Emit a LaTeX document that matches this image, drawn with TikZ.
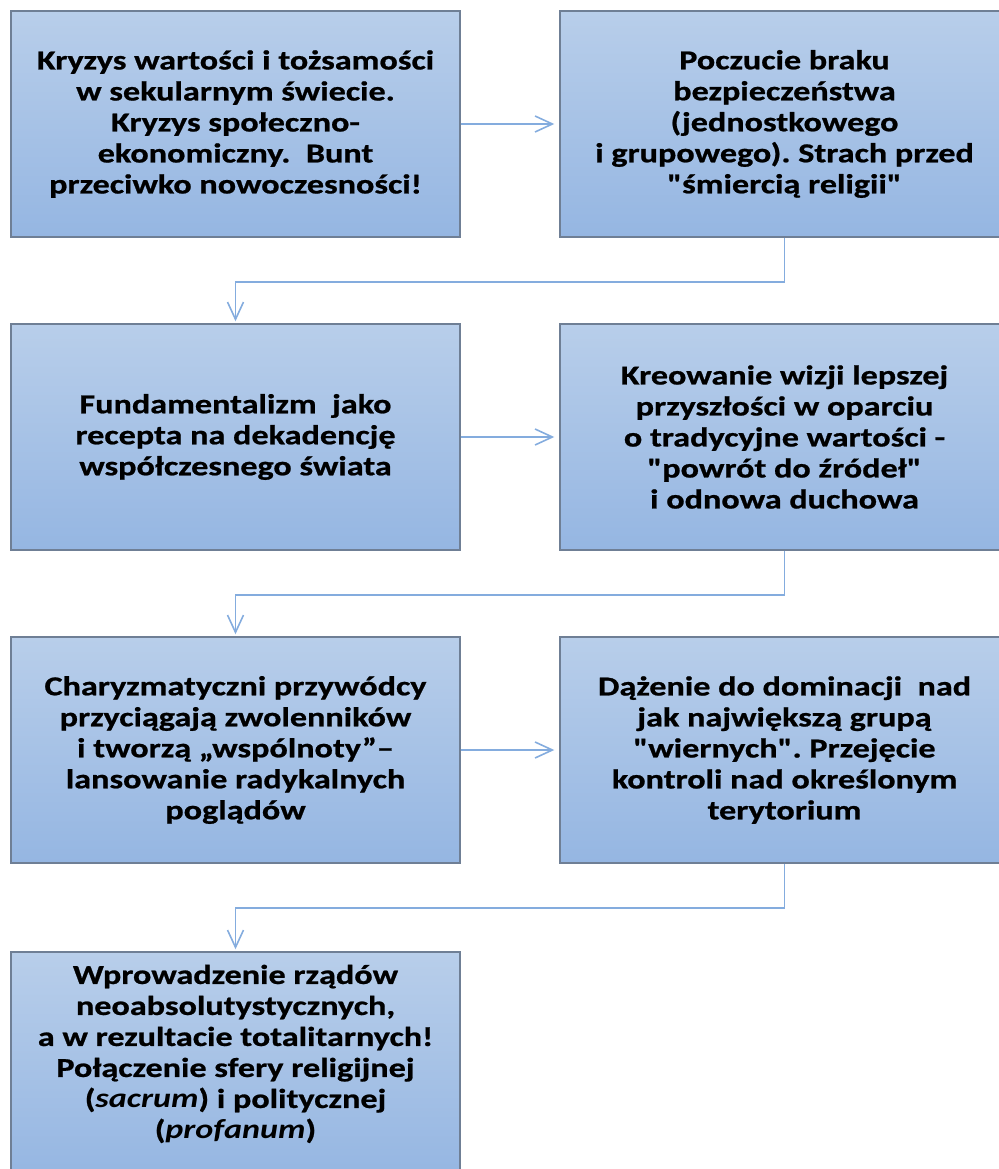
\documentclass[tikz,border=0pt]{standalone}
\usepackage{fontspec}
\newfontfamily\boxfont[FakeStretch=1.25,BoldFeatures={FakeBold=0.8}]{Carlito}
\usetikzlibrary{arrows.meta,shadings}
\definecolor{boxtop}{HTML}{B8CEEA}
\definecolor{boxbot}{HTML}{95B6E2}
\definecolor{boxline}{HTML}{6F7F95}
\definecolor{arrowc}{HTML}{84ACDE}
\frenchspacing
\begin{document}
\begin{tikzpicture}[x=0.75pt,y=-0.75pt,
  box/.style={rectangle, draw=boxline, line width=1.1pt, top color=boxtop, bottom color=boxbot,
    minimum width=336.75pt, minimum height=169.5pt, inner sep=0pt},
  boxtext/.style={align=center, inner sep=0pt, text=black,
    font=\boxfont\bfseries\fontsize{20.5}{23.25}\selectfont},
  conn/.style={draw=arrowc, line width=1.2pt, -{Straight Barb[length=13pt,width=12pt]}}]
\useasboundingbox (0,0) rectangle (998,1169);
\node[box,boxtext] (b1) at (235.5,124) {Kryzys wartości i tożsamości\\w sekularnym świecie.\\Kryzys społeczno-\\ekonomiczny.\ \ Bunt\\przeciwko nowoczesności!};
\node[box,boxtext] (b2) at (784.5,124) {Poczucie braku\\bezpieczeństwa\\(jednostkowego\\i grupowego). Strach przed\\"śmiercią religii"};
\node[box,boxtext] (b3) at (235.5,437) {Fundamentalizm\ \ jako\\recepta na dekadencję\\współczesnego świata};
\node[box,boxtext] (b4) at (784.5,437) {Kreowanie wizji lepszej\\przyszłości w oparciu\\o tradycyjne wartości -\\"powrót do źródeł"\\i odnowa duchowa};
\node[box,boxtext] (b5) at (235.5,750) {Charyzmatyczni przywódcy\\przyciągają zwolenników\\i tworzą „wspólnoty”–\\lansowanie radykalnych\\poglądów};
\node[box,boxtext] (b6) at (784.5,750) {Dążenie do dominacji\ \ nad\\jak największą grupą\\"wiernych". Przejęcie\\kontroli nad określonym\\terytorium};
\node[box] (b7) at (235.5,1065) {};
\node[boxtext] (t7) at (235.5,1054) {Wprowadzenie rządów\\neoabsolutystycznych,\\a w rezultacie totalitarnych!\\Połączenie sfery religijnej\\(\textit{sacrum}) i politycznej\\(\textit{profanum})};
\draw[conn] (b1.east) -- ([xshift=-3.75pt]b2.west);
\draw[conn] (b3.east) -- ([xshift=-3.75pt]b4.west);
\draw[conn] (b5.east) -- ([xshift=-3.75pt]b6.west);
\draw[conn] (b2.south) -- ++(0,44) -| ([yshift=1.5pt]b3.north);
\draw[conn] (b4.south) -- ++(0,44) -| ([yshift=1.5pt]b5.north);
\draw[conn] (b6.south) -- ++(0,44) -| ([yshift=1.5pt]b7.north);
\end{tikzpicture}
\end{document}
